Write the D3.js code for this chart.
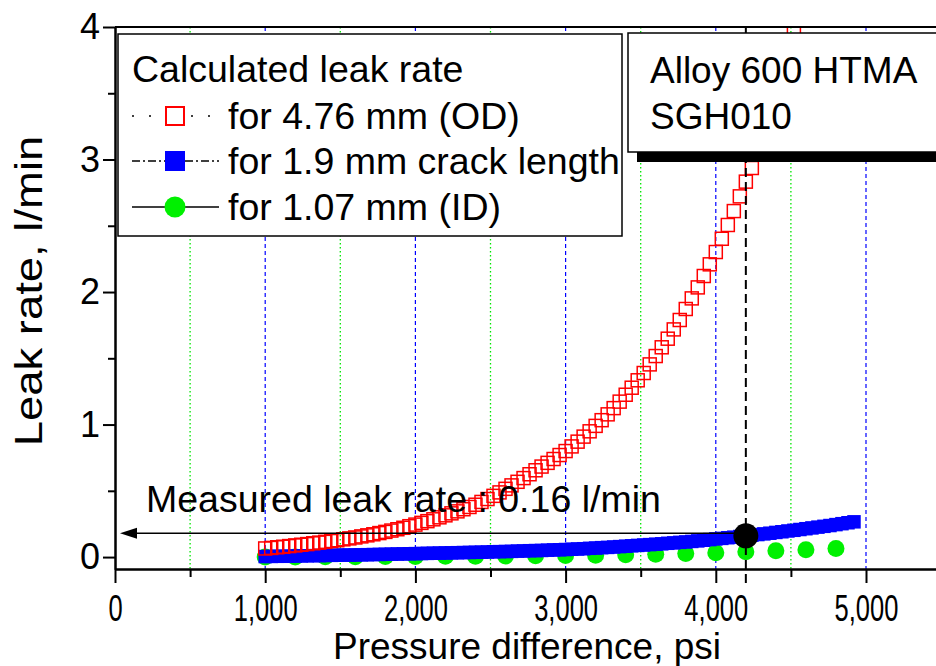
<!DOCTYPE html>
<html>
<head>
<meta charset="utf-8">
<script src="https://cdn.jsdelivr.net/npm/d3@7"></script>
<style>
  body { margin: 0; background: #fff; }
  text { font-family: "Liberation Sans", Arial, Helvetica, sans-serif; fill: #000; }
</style>
</head>
<body>
<svg id="chart" width="936" height="666"></svg>
<script>
// pressure difference (psi) shared by the two square series
const pressurePsi = [
  1000,1040,1080,1120,1160,1200,1240,1280,1320,1360,
  1400,1440,1480,1520,1560,1600,1640,1680,1720,1760,
  1800,1840,1880,1920,1960,2000,2040,2080,2120,2160,
  2200,2240,2280,2320,2360,2400,2440,2480,2520,2560,
  2600,2640,2680,2720,2760,2800,2840,2880,2920,2960,
  3000,3040,3080,3120,3160,3200,3240,3280,3320,3360,
  3400,3440,3480,3520,3560,3600,3640,3680,3720,3760,
  3800,3840,3880,3920,3960,4000,4040,4080,4120,4160,
  4200,4240,4280,4320,4360,4400,4440,4480,4520,4560,
  4600,4640,4680,4720,4760,4800,4840,4880,4920
];

// leak rate (l/min) for 4.76 mm (OD)
const odLeak = [
  0.065,0.069,0.074,0.078,0.083,0.088,0.093,0.098,0.104,0.109,
  0.115,0.121,0.127,0.134,0.141,0.148,0.156,0.164,0.172,0.181,
  0.190,0.200,0.210,0.221,0.233,0.245,0.258,0.271,0.285,0.300,
  0.315,0.330,0.345,0.361,0.378,0.395,0.416,0.438,0.462,0.488,
  0.515,0.541,0.568,0.596,0.625,0.655,0.683,0.711,0.740,0.770,
  0.800,0.835,0.871,0.909,0.949,0.990,1.033,1.077,1.124,1.173,
  1.225,1.278,1.334,1.389,1.454,1.517,1.583,1.648,1.718,1.789,
  1.872,1.952,2.035,2.121,2.209,2.302,2.402,2.506,2.611,2.722,
  2.833,2.936,3.050,3.170,3.300,3.440,3.600,3.770,3.950
];

// leak rate (l/min) for 1.9 mm crack length
const crackLeak = [
  0.004,0.005,0.006,0.006,0.007,0.008,0.009,0.010,0.011,0.011,
  0.012,0.013,0.014,0.015,0.015,0.016,0.017,0.018,0.019,0.020,
  0.021,0.022,0.023,0.024,0.025,0.026,0.027,0.028,0.029,0.030,
  0.031,0.032,0.033,0.034,0.035,0.036,0.037,0.038,0.040,0.041,
  0.042,0.043,0.045,0.046,0.048,0.049,0.050,0.052,0.054,0.055,
  0.057,0.059,0.061,0.063,0.066,0.068,0.071,0.073,0.076,0.079,
  0.082,0.085,0.088,0.091,0.094,0.097,0.100,0.104,0.107,0.111,
  0.114,0.118,0.122,0.127,0.132,0.137,0.141,0.146,0.150,0.155,
  0.160,0.165,0.170,0.175,0.180,0.186,0.191,0.197,0.202,0.208,
  0.214,0.220,0.226,0.232,0.238,0.245,0.252,0.259,0.266
];

// 1.07 mm (ID) series
const idPressure = [1000,1200,1400,1600,1800,2000,2200,2400,2600,2800,
                    3000,3200,3400,3600,3800,4000,4200,4400,4600,4800];
const idLeak = [0.000,0.001,0.002,0.003,0.004,0.005,0.006,0.007,0.008,0.010,
                0.012,0.014,0.018,0.022,0.027,0.033,0.040,0.047,0.055,0.065];

const xMajorTicks = [0, 1000, 2000, 3000, 4000, 5000];
const xMinorTicks = [500, 1500, 2500, 3500, 4500];
const yMajorTicks = [0, 1, 2, 3, 4];
const yMinorTicks = [0.5, 1.5, 2.5, 3.5];

const measuredPsi = 4200;
const measuredLeak = 0.16;
const arrowLeak = 0.18;

const legendTitle = "Calculated leak rate";
const legendLabels = ["for 4.76 mm (OD)", "for 1.9 mm crack length", "for 1.07 mm (ID)"];
const infoLines = ["Alloy 600 HTMA", "SGH010"];
const measuredText = "Measured leak rate : 0.16 l/min";

const W = 936, H = 666;
const plotLeft = 115, plotTop = 27, plotBottom = 569;

const svg = d3.select("#chart");

let x = d3.scaleLinear().domain([0, 5500]).range([plotLeft, 941.1]);
let y = d3.scaleLinear().domain([-0.09, 4]).range([plotBottom, plotTop]);

svg.append("defs").append("clipPath").attr("id", "plotClip")
  .append("rect").attr("x", plotLeft).attr("y", plotTop)
  .attr("width", W - plotLeft).attr("height", plotBottom - plotTop);

// grid lines
let grid = svg.append("g");
grid.selectAll(".gmin").data(xMinorTicks).enter().append("line")
  .attr("x1", d => x(d)).attr("x2", d => x(d))
  .attr("y1", plotTop).attr("y2", plotBottom)
  .attr("stroke", "#00e600").attr("stroke-width", 1.3)
  .attr("stroke-dasharray", "1.5,2.5");
grid.selectAll(".gmaj").data(xMajorTicks.filter(d => d > 0)).enter().append("line")
  .attr("x1", d => x(d)).attr("x2", d => x(d))
  .attr("y1", plotTop).attr("y2", plotBottom)
  .attr("stroke", "#0000ff").attr("stroke-width", 1.2)
  .attr("stroke-dasharray", "4,3");

let plot = svg.append("g").attr("clip-path", "url(#plotClip)");

// green circles
plot.selectAll(".idPt").data(idPressure).enter().append("circle")
  .attr("cx", d => x(d))
  .attr("cy", (d, i) => y(idLeak[i]))
  .attr("r", 8.5)
  .attr("fill", "#00f000");

// blue squares
let bs = 13.5;
plot.selectAll(".crackPt").data(crackLeak).enter().append("rect")
  .attr("x", (d, i) => x(pressurePsi[i]) - bs / 2)
  .attr("y", d => y(d) - bs / 2)
  .attr("width", bs).attr("height", bs)
  .attr("fill", "#0000ff");

// red open squares
let rs = 13;
plot.selectAll(".odPt").data(odLeak).enter().append("rect")
  .attr("x", (d, i) => x(pressurePsi[i]) - rs / 2)
  .attr("y", d => y(d) - rs / 2)
  .attr("width", rs).attr("height", rs)
  .attr("fill", "none")
  .attr("stroke", "#ff0000").attr("stroke-width", 1.5);

// dashed marker line at the measured pressure
svg.append("line")
  .attr("x1", x(measuredPsi)).attr("x2", x(measuredPsi))
  .attr("y1", plotBottom + 14).attr("y2", plotTop)
  .attr("stroke", "#000").attr("stroke-width", 2)
  .attr("stroke-dasharray", "9,5");

// arrow to the leak-rate axis
let ay = y(arrowLeak);
svg.append("line")
  .attr("x1", x(measuredPsi)).attr("x2", plotLeft + 18)
  .attr("y1", ay).attr("y2", ay)
  .attr("stroke", "#000").attr("stroke-width", 1.5);
svg.append("path")
  .attr("d", `M${plotLeft + 5},${ay} L${plotLeft + 22},${ay - 5.5} L${plotLeft + 22},${ay + 5.5} Z`)
  .attr("fill", "#000");

svg.append("circle")
  .attr("cx", x(measuredPsi)).attr("cy", y(measuredLeak))
  .attr("r", 12.5).attr("fill", "#000");

// axes
let xAxis = d3.axisBottom(x).tickValues(xMajorTicks).tickSize(14).tickSizeOuter(0)
  .tickPadding(12).tickFormat(d3.format(","));
let gx = svg.append("g").attr("transform", `translate(0,${plotBottom})`).call(xAxis);
svg.append("g").attr("transform", `translate(0,${plotBottom})`)
  .call(d3.axisBottom(x).tickValues(xMinorTicks).tickSize(8).tickSizeOuter(0).tickFormat(""));

let yAxis = d3.axisLeft(y).tickValues(yMajorTicks).tickSize(12).tickSizeOuter(0)
  .tickPadding(3).tickFormat(d3.format("d"));
let gy = svg.append("g").attr("transform", `translate(${plotLeft},0)`).call(yAxis);
svg.append("g").attr("transform", `translate(${plotLeft},0)`)
  .call(d3.axisLeft(y).tickValues(yMinorTicks).tickSize(7).tickSizeOuter(0).tickFormat(""));

svg.selectAll(".domain").attr("stroke-width", 2);
svg.selectAll(".tick line").attr("stroke-width", 2);
svg.selectAll(".tick text").style("font-size", "36px")
  .style("font-family", '"Liberation Sans", Arial, sans-serif');
// x tick labels are narrow in the original
gx.selectAll(".tick text").style("font-size", "37px").attr("transform", "scale(0.69,1)");

// top frame line
svg.append("line").attr("x1", plotLeft).attr("x2", W).attr("y1", plotTop).attr("y2", plotTop)
  .attr("stroke", "#000").attr("stroke-width", 2);

// axis titles
svg.append("text").attr("x", 527).attr("y", 659).attr("text-anchor", "middle")
  .style("font-size", "37px").text("Pressure difference, psi");
svg.append("text").attr("transform", "translate(42,291) rotate(-90) scale(1.18,1)")
  .attr("text-anchor", "middle").style("font-size", "38.5px").text("Leak rate, l/min");

// measured annotation
svg.append("text").attr("x", 146).attr("y", 512)
  .style("font-size", "37.5px").text(measuredText);

// legend
let lg = svg.append("g");
lg.append("rect").attr("x", 118).attr("y", 34).attr("width", 504).attr("height", 202)
  .attr("fill", "#fff").attr("stroke", "#000").attr("stroke-width", 1.5);
lg.append("text").attr("x", 132).attr("y", 82).style("font-size", "37.5px").text(legendTitle);

let rowY = [116, 161, 207];
let dashes = ["2,15", "8,3,2,3", null];
let segs = [[[132, 166], [191, 219]], [[132, 166], [185, 219]], [[132, 166], [185, 219]]];
rowY.forEach((ry, i) => {
  segs[i].forEach(seg => {
    let ln = lg.append("line").attr("x1", seg[0]).attr("x2", seg[1])
      .attr("y1", ry).attr("y2", ry)
      .attr("stroke", "#000").attr("stroke-width", 1.5);
    if (dashes[i]) ln.attr("stroke-dasharray", dashes[i]);
  });
  lg.append("text").attr("x", 228).attr("y", ry + 13).style("font-size", "37.5px").text(legendLabels[i]);
});
lg.append("rect").attr("x", 166).attr("y", rowY[0] - 9).attr("width", 18).attr("height", 18)
  .attr("fill", "#fff").attr("stroke", "#ff0000").attr("stroke-width", 2);
lg.append("rect").attr("x", 165).attr("y", rowY[1] - 10).attr("width", 20).attr("height", 20)
  .attr("fill", "#0000ff");
lg.append("circle").attr("cx", 175).attr("cy", rowY[2]).attr("r", 10.5).attr("fill", "#00f000");

// info box with shadow
let ib = svg.append("g");
ib.append("rect").attr("x", 637).attr("y", 43).attr("width", 320).attr("height", 119).attr("fill", "#000");
ib.append("rect").attr("x", 628).attr("y", 33).attr("width", 320).attr("height", 119)
  .attr("fill", "#fff").attr("stroke", "#000").attr("stroke-width", 1.5);
infoLines.forEach((t, i) => {
  ib.append("text").attr("x", 650).attr("y", 83 + i * 45.5).style("font-size", "37px").text(t);
});
</script>
</body>
</html>
